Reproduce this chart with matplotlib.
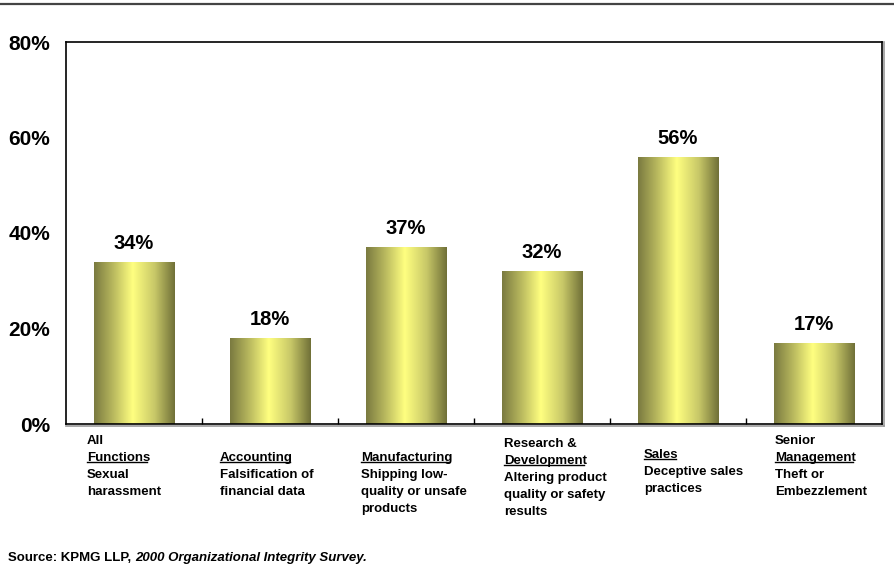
import numpy as np
import matplotlib
matplotlib.use('Agg')
from matplotlib import pyplot as plt
from matplotlib.colors import LinearSegmentedColormap
from matplotlib.lines import Line2D

plt.rcParams['font.family'] = 'Liberation Sans'
plt.rcParams['font.weight'] = 'bold'

# data
values = [34, 18, 37, 32, 56, 17]
label_lines = [
    ["All", "Functions", "Sexual", "harassment"],
    ["Accounting", "Falsification of", "financial data"],
    ["Manufacturing", "Shipping low-", "quality or unsafe", "products"],
    ["Research &", "Development", "Altering product", "quality or safety", "results"],
    ["Sales", "Deceptive sales", "practices"],
    ["Senior", "Management", "Theft or", "Embezzlement"],
]
underlined = [1, 0, 0, 1, 0, 1]   # index of the function-name line
yticks = [0, 20, 40, 60, 80]

# layout (pixels)
first_row = [0, 1, 1, 0.15, 0.8, 0]
left_off = [-47, -50, -45, -38, -34, -39]
DPI = 100
W, H = 894, 564

fig = plt.figure(figsize=(W / DPI, H / DPI), dpi=DPI)
ax = fig.add_axes([66 / W, (H - 424) / H, (882 - 66) / W, (424 - 42) / H])

x = np.arange(len(values))
bars = ax.bar(x, values, width=0.59, facecolor='none', edgecolor='none')

# olive -> pale yellow -> olive shading across each bar
cmap = LinearSegmentedColormap.from_list(
    'olive', [(0.0, '#7a7a40'), (0.22, '#b4b45c'), (0.48, '#ffff80'),
              (0.75, '#c8c868'), (1.0, '#707038')])
grad = np.linspace(0, 1, 256).reshape(1, -1)
for b in bars:
    x0, w, h = b.get_x(), b.get_width(), b.get_height()
    im = ax.imshow(grad, extent=[x0, x0 + w, 0, h], aspect='auto', cmap=cmap,
                   interpolation='bilinear', zorder=2)
    im.set_clip_path(b)

ax.set_xlim(-0.5, len(values) - 0.5)
ax.set_ylim(0, 80)

# value labels
for xi, v in zip(x, values):
    ax.annotate(f"{v}%", xy=(xi, v), xytext=(0, 6.5), textcoords='offset points',
                ha='center', va='bottom', fontsize=14.5, fontweight='bold')

# axes styling
for s in ax.spines.values():
    s.set_linewidth(1.2)
    s.set_color('black')
ax.set_yticks(yticks)
ax.set_yticklabels([f"{t}%" for t in yticks], fontsize=15, fontweight='bold')
ax.tick_params(axis='y', length=0, pad=11.5)
ax.set_xticks(x)
ax.set_xticklabels([])
ax.tick_params(axis='x', which='major', length=0)
ax.set_xticks(np.arange(0.5, len(values) - 0.5), minor=True)
ax.tick_params(axis='x', which='minor', direction='in', length=4, width=1)

# soft shadow on right and bottom frame edges
axl, axb, axr, axt = 66 / W, (H - 424) / H, 882 / W, 1 - 42 / H
fig.add_artist(Line2D([axr + 1.5 / W, axr + 1.5 / W], [axb - 1.5 / H, axt],
                      transform=fig.transFigure, color='#9a9a9a', linewidth=1.2, zorder=0))
fig.add_artist(Line2D([axl, axr + 1.5 / W], [axb - 1.5 / H, axb - 1.5 / H],
                      transform=fig.transFigure, color='#9a9a9a', linewidth=1.2, zorder=0))

# category labels, left aligned blocks
px = 72 / DPI
texts = []
for i, lines in enumerate(label_lines):
    for j, line in enumerate(lines):
        yoff = -(20 + 17 * (first_row[i] + j)) * px
        t = ax.annotate(line, xy=(i, 0), xycoords=('data', 'axes fraction'),
                        xytext=(left_off[i] * px, yoff), textcoords='offset points',
                        ha='left', va='baseline', fontsize=9.5, fontweight='bold')
        if j == underlined[i]:
            texts.append(t)

# source line
src1 = fig.text(8 / W, 1 - 561 / H, "Source: KPMG LLP, ", fontsize=9.5,
                fontweight='bold', ha='left', va='baseline')

# top rule
fig.add_artist(Line2D([0, 1], [1 - 4 / H, 1 - 4 / H], transform=fig.transFigure,
                      color='#444444', linewidth=1.6))

fig.canvas.draw()
r = fig.canvas.get_renderer()
for t in texts:
    bb = t.get_window_extent(r)
    yb = bb.y0 + 2
    fig.add_artist(Line2D([bb.x0 / W, (bb.x1 - 3) / W], [yb / H, yb / H],
                          transform=fig.transFigure, color='black', linewidth=1.0))

bb = src1.get_window_extent(r)
fig.text(bb.x1 / W, 1 - 561 / H, "2000 Organizational Integrity Survey.", fontsize=9.5,
         fontweight='bold', style='italic', ha='left', va='baseline')

fig.savefig('out.png', dpi=DPI)
